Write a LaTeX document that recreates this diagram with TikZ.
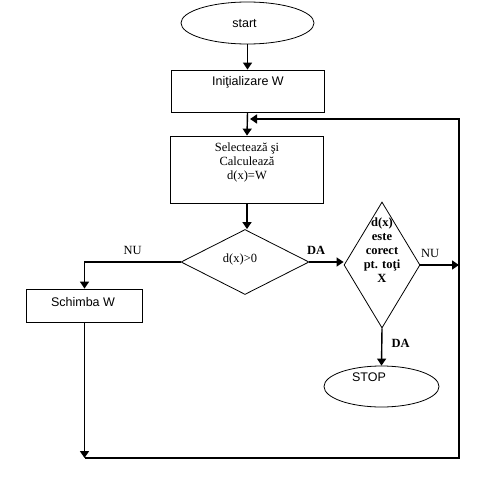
\documentclass[tikz,border=0pt]{standalone}
\usepackage{fontspec}
\setmainfont{Liberation Serif}
\newfontfamily\fcArial{Liberation Sans}
\usetikzlibrary{shapes.geometric,arrows.meta,positioning}

\begin{document}
\begin{tikzpicture}[
    x=1pt, y=-1pt,
    fcTerm/.style={ellipse, draw, line width=0.8pt, inner sep=0pt},
    fcBox/.style={rectangle, draw, line width=0.8pt, inner sep=0pt},
    fcDec/.style={diamond, draw, line width=0.8pt, inner sep=0pt},
    fcText/.style={font=\fontsize{12.5}{14}\selectfont, align=center, inner sep=0pt},
    fcSans/.style={font=\fcArial\fontsize{12.5}{14}\selectfont, inner sep=0pt},
    fcBold/.style={font=\bfseries\fontsize{12.5}{14}\selectfont, align=center, inner sep=0pt},
    fcEdge/.style={line width=1.4pt, -{Triangle[length=7pt,width=9pt]}}
]
\useasboundingbox (0,0) rectangle (483,495);

\node[fcTerm, minimum width=133, minimum height=42] (start) at (247.5,23) {};
\node[fcSans] (startTxt) at (244.5,24) {start};
\node[fcBox, minimum width=153, minimum height=42] (init) at (247.5,91) {};
\node[fcSans] (initTxt) at (248,82) {Iniţializare W};
\node[fcBox, minimum width=153, minimum height=67] (sel) at (247,169.5) {};
\node[fcText] (selTxt) at (247,162) {Selectează şi\\Calculează\\d(x)=W};
\node[fcDec, minimum width=128, minimum height=65] (dec1) at (245,262) {};
\node[fcText] (dec1Txt) at (240,259) {d(x)>0};
\node[fcDec, minimum width=76, minimum height=126] (dec2) at (382,265) {};
\node[fcBold] (dec2Txt) at (382,250) {d(x)\\este\\corect\\pt. toţi\\X};
\node[fcBox, minimum width=116, minimum height=33] (chg) at (84.5,305.5) {};
\node[fcSans] (chgTxt) at (83,302) {Schimba W};
\node[fcTerm, minimum width=115, minimum height=41] (stop) at (381.5,386.5) {};
\node[fcSans] (stopTxt) at (369,377) {STOP};

\coordinate (loopBL) at (84.5,458);
\coordinate (loopTR) at (459,119);
\coordinate (loopIn) at (250,119);

\draw[fcEdge] (start.south) -- (init.north);
\draw[fcEdge] (init.south) -- (sel.north);
\draw[fcEdge] (sel.south) -- (sel.south |- dec1.north);
\draw[fcEdge] (dec1.west) -| node[fcText, pos=0.25, above=7pt] (nuLeft) {NU} (chg.north);
\draw[fcEdge] (dec1.east) -- node[fcBold, pos=0.2, above=7pt] (daRight) {DA} (dec1.east -| dec2.west);
\draw[fcEdge] (dec2.east) -- node[fcText, pos=0.25, above=7pt] (nuRight) {NU} (dec2.east -| loopTR);
\draw[fcEdge] (dec2.south) -- node[fcBold, pos=0.4, right=9pt] (daDown) {DA} (stop.north);
\draw[fcEdge] (chg.south) -- (loopBL);
\draw[fcEdge] (loopBL) -| (loopTR) -- (loopIn);
\end{tikzpicture}
\end{document}
